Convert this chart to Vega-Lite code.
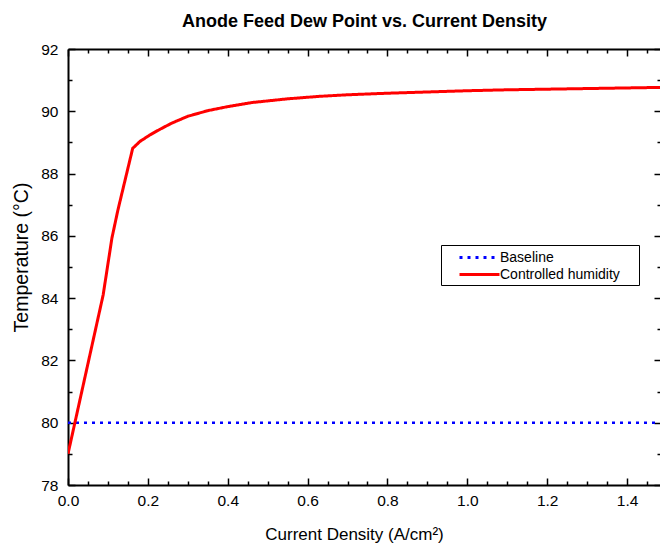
{
  "$schema": "https://vega.github.io/schema/vega-lite/v6.json",
  "width": 593,
  "height": 436,
  "autosize": {"type": "none"},
  "padding": {"left": 68, "top": 49, "right": 0, "bottom": 61},
  "background": "white",
  "title": {
    "text": "Anode Feed Dew Point vs. Current Density",
    "font": "Liberation Sans",
    "fontSize": 18,
    "fontWeight": "bold",
    "color": "black",
    "anchor": "middle",
    "frame": "group",
    "offset": 11
  },
  "config": {
    "view": {"stroke": null},
    "axis": {
      "grid": false,
      "domainColor": "black",
      "domainWidth": 2,
      "tickColor": "black",
      "tickWidth": 1.5,
      "labelFont": "Liberation Sans",
      "labelFontSize": 15.5,
      "labelColor": "black",
      "titleFont": "Liberation Sans",
      "titleFontSize": 18,
      "titleFontWeight": "normal",
      "titleColor": "black",
      "labelFlush": false,
      "labelOverlap": false
    }
  },
  "data": {
    "values": [
      {"series": "Baseline", "x": 0, "y": 80},
      {"series": "Baseline", "x": 1.5, "y": 80},
      {"series": "Controlled humidity", "x": 0, "y": 79.0},
      {"series": "Controlled humidity", "x": 0.088, "y": 84.1},
      {"series": "Controlled humidity", "x": 0.11, "y": 85.93},
      {"series": "Controlled humidity", "x": 0.125, "y": 86.83},
      {"series": "Controlled humidity", "x": 0.162, "y": 88.81},
      {"series": "Controlled humidity", "x": 0.18, "y": 89.03},
      {"series": "Controlled humidity", "x": 0.205, "y": 89.24},
      {"series": "Controlled humidity", "x": 0.23, "y": 89.42},
      {"series": "Controlled humidity", "x": 0.26, "y": 89.62},
      {"series": "Controlled humidity", "x": 0.3, "y": 89.84},
      {"series": "Controlled humidity", "x": 0.35, "y": 90.02},
      {"series": "Controlled humidity", "x": 0.4, "y": 90.15},
      {"series": "Controlled humidity", "x": 0.46, "y": 90.28},
      {"series": "Controlled humidity", "x": 0.55, "y": 90.4},
      {"series": "Controlled humidity", "x": 0.63, "y": 90.48},
      {"series": "Controlled humidity", "x": 0.7, "y": 90.53},
      {"series": "Controlled humidity", "x": 0.8, "y": 90.58},
      {"series": "Controlled humidity", "x": 0.9, "y": 90.62},
      {"series": "Controlled humidity", "x": 1.0, "y": 90.66},
      {"series": "Controlled humidity", "x": 1.1, "y": 90.69},
      {"series": "Controlled humidity", "x": 1.2, "y": 90.71},
      {"series": "Controlled humidity", "x": 1.3, "y": 90.73},
      {"series": "Controlled humidity", "x": 1.4, "y": 90.75},
      {"series": "Controlled humidity", "x": 1.5, "y": 90.77}
    ]
  },
  "layer": [
    {
      "transform": [{"filter": "datum.series == 'Baseline'"}],
      "mark": {"type": "line", "clip": true, "strokeWidth": 2.5},
      "encoding": {
        "x": {
          "field": "x", "type": "quantitative",
          "scale": {"domain": [0, 1.485], "nice": false, "zero": false},
          "axis": {
            "orient": "top", "labels": false, "title": null,
            "values": [0,0.05,0.1,0.15,0.2,0.25,0.3,0.35,0.4,0.45,0.5,0.55,0.6,0.65,0.7,0.75,0.8,0.85,0.9,0.95,1,1.05,1.1,1.15,1.2,1.25,1.3,1.35,1.4,1.45],
            "tickSize": {"condition": {"test": "abs(datum.value*5 - round(datum.value*5)) < 0.001", "value": -7}, "value": -4}
          }
        },
        "y": {
          "field": "y", "type": "quantitative",
          "scale": {"domain": [78, 92], "nice": false, "zero": false},
          "axis": {
            "orient": "right", "labels": false, "title": null,
            "values": [78,79,80,81,82,83,84,85,86,87,88,89,90,91,92],
            "tickSize": {"condition": {"test": "datum.value % 2 == 0", "value": -7}, "value": -4}
          }
        },
        "color": {
          "field": "series", "type": "nominal",
          "scale": {"domain": ["Baseline", "Controlled humidity"], "range": ["#0000ff", "#ff0000"]},
          "legend": {
            "orient": "none", "legendX": 373, "legendY": 196,
            "title": null,
            "strokeColor": "black", "fillColor": "white",
            "padding": 3, "symbolOffset": 26,
            "symbolType": "M-2.5,0H2.5", "symbolSize": 256, "symbolStrokeWidth": 3,
            "labelFont": "Liberation Sans", "labelFontSize": 14, "labelColor": "black",
            "labelOffset": 11, "rowPadding": 0,
            "labelExpr": "datum.label + '\u00a0\u00a0\u00a0\u00a0\u200b'"
          }
        },
        "strokeDash": {
          "field": "series", "type": "nominal",
          "scale": {"domain": ["Baseline", "Controlled humidity"], "range": [[3, 5], [1, 0]]},
          "legend": null
        }
      }
    },
    {
      "transform": [{"filter": "datum.series == 'Controlled humidity'"}],
      "mark": {"type": "line", "clip": true, "strokeWidth": 3},
      "encoding": {
        "x": {
          "field": "x", "type": "quantitative",
          "axis": {
            "orient": "bottom",
            "title": "Current Density (A/cm²)",
            "titleFontSize": 17,
            "titlePadding": 15,
            "titleX": 286,
            "labelPadding": 15,
            "values": [0,0.05,0.1,0.15,0.2,0.25,0.3,0.35,0.4,0.45,0.5,0.55,0.6,0.65,0.7,0.75,0.8,0.85,0.9,0.95,1,1.05,1.1,1.15,1.2,1.25,1.3,1.35,1.4,1.45],
            "labelExpr": "abs(datum.value*5 - round(datum.value*5)) < 0.001 ? format(datum.value, '.1f') : ''",
            "tickSize": {"condition": {"test": "abs(datum.value*5 - round(datum.value*5)) < 0.001", "value": -7}, "value": -4}
          }
        },
        "y": {
          "field": "y", "type": "quantitative",
          "axis": {
            "orient": "left",
            "title": "Temperature (°C)",
            "titleFontSize": 19.5,
            "titlePadding": 9,
            "titleY": 208,
            "labelPadding": 17,
            "values": [78,79,80,81,82,83,84,85,86,87,88,89,90,91,92],
            "labelExpr": "datum.value % 2 == 0 ? datum.label : ''",
            "tickSize": {"condition": {"test": "datum.value % 2 == 0", "value": -7}, "value": -4}
          }
        },
        "color": {"field": "series", "type": "nominal"},
        "strokeDash": {"field": "series", "type": "nominal"}
      }
    }
  ],
  "resolve": {"axis": {"x": "independent", "y": "independent"}}
}
